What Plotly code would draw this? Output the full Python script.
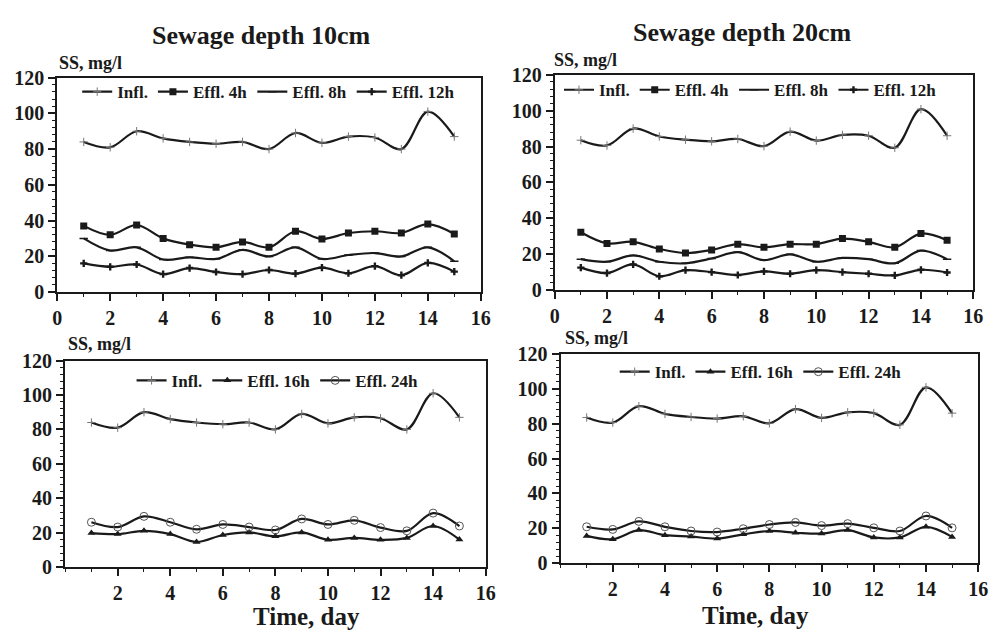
import plotly.graph_objects as go

days = list(range(1, 16))

# Sewage depth 10 cm
infl_10 = [84, 81, 90, 86, 84, 83, 84, 80, 89, 83.5, 87, 86.5, 80, 101, 87]
effl4_10 = [37, 32, 37.5, 30, 26.5, 25, 28, 25, 34, 29.7, 33, 34, 33, 38, 32.5]
effl8_10 = [30, 23.2, 25, 18.2, 19.4, 18.5, 23.6, 19.9, 25, 18.5, 20.7, 21.8, 19.9, 25, 17.2]
effl12_10 = [16, 14.1, 15.4, 10, 13.4, 11.2, 10, 12.3, 10.3, 13.6, 10.5, 14.5, 9.4, 16.3, 11.4]
effl16_10 = [19.8, 19.2, 21.1, 19.2, 14.6, 18.7, 20.2, 17.9, 20.2, 15.9, 17, 15.9, 17, 23.9, 16]
effl24_10 = [26.1, 23.3, 29.5, 26.1, 22, 24.8, 23.3, 21.6, 28, 24.8, 27.2, 23, 21.1, 31.4, 23.9]

# Sewage depth 20 cm
infl_20 = [83.5, 80.6, 90, 85.6, 83.8, 82.9, 84.2, 80.2, 88.3, 83.3, 86.5, 86, 79.3, 100.8, 86]
effl4_20 = [32.2, 26, 26.9, 22.9, 20.6, 22.4, 25.6, 23.8, 25.6, 25.6, 28.7, 26.9, 23.8, 31.5, 27.8]
effl8_20 = [17.2, 15.8, 19.3, 15.8, 14.9, 17.6, 21.1, 16.7, 19.9, 15.8, 17.9, 17.2, 14.9, 22, 17.2]
effl12_20 = [12.5, 9.5, 14.3, 7.7, 11.1, 10, 8.4, 10.4, 9.1, 11.1, 10, 9.1, 8.2, 11.3, 9.8]
effl16_20 = [15.7, 13.8, 19, 16.1, 15.3, 14.2, 16.6, 18.5, 17.5, 17, 19, 14.8, 14.8, 20.9, 15.1]
effl24_20 = [20.9, 19.4, 24, 20.9, 18.5, 17.9, 19.8, 22.2, 23.4, 21.6, 22.7, 20.3, 18.5, 27.1, 20.3]

top_names = ["Infl.", "Effl. 4h", "Effl. 8h", "Effl. 12h"]
bottom_names = ["Infl.", "Effl. 16h", "Effl. 24h"]

x_ticks_top = [0, 2, 4, 6, 8, 10, 12, 14, 16]
x_ticks_bottom = [2, 4, 6, 8, 10, 12, 14, 16]
y_ticks = [0, 20, 40, 60, 80, 100, 120]

FONT = "Liberation Serif"
INK = "#1a1a1a"

styles = {
    "Infl.": dict(symbol="cross-thin-open", size=6, color="#777777", line=dict(width=1, color="#777777")),
    "Effl. 4h": dict(symbol="square", size=7, color=INK),
    "Effl. 8h": dict(symbol="line-ew-open", size=6, color=INK, line=dict(width=1.5, color=INK)),
    "Effl. 12h": dict(symbol="cross", size=6, color=INK),
    "Effl. 16h": dict(symbol="triangle-up", size=7, color=INK),
    "Effl. 24h": dict(symbol="circle-open", size=8, color="#555555", line=dict(width=1, color="#555555")),
}

fig = go.Figure()

panels = [
    (1, top_names, [infl_10, effl4_10, effl8_10, effl12_10], "legend"),
    (2, top_names, [infl_20, effl4_20, effl8_20, effl12_20], "legend2"),
    (3, bottom_names, [infl_10, effl16_10, effl24_10], "legend3"),
    (4, bottom_names, [infl_20, effl16_20, effl24_20], "legend4"),
]

for idx, names, series, leg in panels:
    suffix = "" if idx == 1 else str(idx)
    for name, vals in zip(names, series):
        fig.add_trace(go.Scatter(
            x=days, y=vals, name=name, mode="lines+markers",
            line=dict(color=INK, width=2.2, shape="spline", smoothing=1.0),
            marker=styles[name],
            xaxis="x" + suffix, yaxis="y" + suffix,
            legend=leg, showlegend=True,
        ))

domains = {
    1: ([0.0531, 0.4835], [0.5446, 0.8920]),
    2: ([0.5586, 0.9840], [0.5477, 0.8967]),
    3: ([0.0611, 0.4885], [0.0986, 0.4335]),
    4: ([0.5646, 0.9890], [0.1049, 0.4444]),
}

tickfont = dict(family=FONT, size=20, color=INK, weight="bold")
layout = dict(
    width=999, height=639,
    margin=dict(l=0, r=0, t=0, b=0),
    paper_bgcolor="white", plot_bgcolor="white",
    font=dict(family=FONT, color=INK, weight="bold"),
)

for idx, (xd, yd) in domains.items():
    suffix = "" if idx == 1 else str(idx)
    layout["xaxis" + suffix] = dict(
        domain=xd, range=[0, 16], anchor="y" + suffix,
        tickmode="array", tickvals=x_ticks_top if idx <= 2 else x_ticks_bottom,
        ticks="outside", ticklen=7, tickwidth=1.5, tickcolor=INK,
        minor=dict(dtick=1, tick0=0, ticks="outside", ticklen=3, tickwidth=1, tickcolor=INK),
        showline=True, linecolor=INK, linewidth=2, mirror=True,
        showgrid=False, zeroline=False, tickfont=tickfont,
    )
    layout["yaxis" + suffix] = dict(
        domain=yd, range=[0, 120], anchor="x" + suffix,
        tickmode="array", tickvals=y_ticks,
        ticks="outside", ticklen=7, tickwidth=1.5, tickcolor=INK,
        minor=dict(dtick=4, tick0=0, ticks="outside", ticklen=3, tickwidth=1, tickcolor=INK),
        showline=True, linecolor=INK, linewidth=2, mirror=True,
        showgrid=False, zeroline=False, tickfont=tickfont,
    )

legfont = dict(family=FONT, size=17, color=INK, weight="bold")
leg_common = dict(orientation="h", bgcolor="rgba(0,0,0,0)", font=legfont,
                  itemwidth=30, tracegroupgap=0, yanchor="middle")
layout["legend"] = dict(leg_common, x=0.268, xanchor="center", y=1 - 84 / 639)
layout["legend2"] = dict(leg_common, x=0.563, xanchor="left", y=1 - 82 / 639)
layout["legend3"] = dict(leg_common, x=0.277, xanchor="center", y=1 - 383 / 639)
layout["legend4"] = dict(leg_common, x=0.768, xanchor="center", y=1 - 374 / 639)

fig.update_layout(**layout)

def ann(text, x, y, size, xanchor="center"):
    fig.add_annotation(text=text, x=x, y=y, xref="paper", yref="paper",
                       xanchor=xanchor, yanchor="middle", showarrow=False,
                       font=dict(family=FONT, size=size, color=INK, weight="bold"))

ann("Sewage depth 10cm", 260 / 999, 1 - 25 / 639, 26)
ann("Sewage depth 20cm", 748 / 999, 1 - 22 / 639, 26)
ann("SS, mg/l", 53 / 999, 1 - 54 / 639, 18, "left")
ann("SS, mg/l", 555 / 999, 1 - 51 / 639, 18, "left")
ann("SS, mg/l", 62 / 999, 1 - 345 / 639, 18, "left")
ann("SS, mg/l", 566 / 999, 1 - 339 / 639, 18, "left")
ann("Time, day", 306 / 999, 1 - 627 / 639, 25)
ann("Time, day", 762 / 999, 1 - 626 / 639, 25)

fig.write_html("out.html")
